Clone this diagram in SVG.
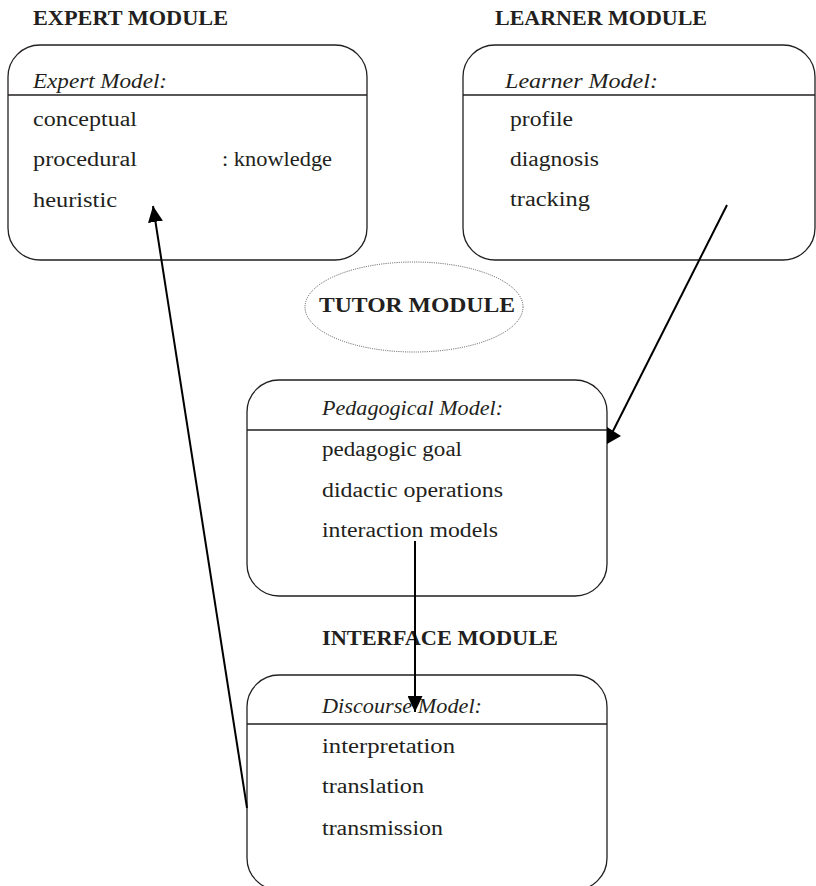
<svg xmlns="http://www.w3.org/2000/svg" width="816" height="886" viewBox="0 0 816 886">
  <style>
    text { font-family: "Liberation Serif", "Times New Roman", serif; font-size: 20px; fill: #231f20; }
    .head { font-weight: bold; }
    .it { font-style: italic; }
    .box { fill: #ffffff; stroke: #231f20; stroke-width: 1.3; }
    .rule { stroke: #231f20; stroke-width: 1.3; }
    .arrow { stroke: #000000; stroke-width: 2; fill: none; }
    .tip { fill: #000000; }
  </style>
  <defs>
    <marker id="arrowhead" markerUnits="userSpaceOnUse" markerWidth="16" markerHeight="15" refX="16" refY="7.5" orient="auto">
      <path d="M0,0 L16,7.5 L0,15 z" class="tip"/>
    </marker>
  </defs>

  <rect width="816" height="886" fill="#ffffff"/>

  <!-- Expert module -->
  <g id="expert">
    <text class="head" x="33" y="25" textLength="195" lengthAdjust="spacingAndGlyphs">EXPERT MODULE</text>
    <rect class="box" x="8" y="45" width="359" height="215" rx="32" ry="32"/>
    <line class="rule" x1="8" y1="95" x2="367" y2="95"/>
    <text class="it" x="33" y="88" textLength="134" lengthAdjust="spacingAndGlyphs">Expert Model:</text>
    <text x="33" y="126" textLength="104" lengthAdjust="spacingAndGlyphs">conceptual</text>
    <text x="33" y="166" textLength="104" lengthAdjust="spacingAndGlyphs">procedural</text>
    <text x="222" y="166" textLength="110" lengthAdjust="spacingAndGlyphs">: knowledge</text>
    <text x="33" y="207" textLength="84" lengthAdjust="spacingAndGlyphs">heuristic</text>
  </g>

  <!-- Learner module -->
  <g id="learner">
    <text class="head" x="495" y="25" textLength="212" lengthAdjust="spacingAndGlyphs">LEARNER MODULE</text>
    <rect class="box" x="463" y="45" width="352" height="215" rx="32" ry="32"/>
    <line class="rule" x1="463" y1="95" x2="815" y2="95"/>
    <text class="it" x="505" y="88" textLength="153" lengthAdjust="spacingAndGlyphs">Learner Model:</text>
    <text x="510" y="126" textLength="63" lengthAdjust="spacingAndGlyphs">profile</text>
    <text x="510" y="166" textLength="89" lengthAdjust="spacingAndGlyphs">diagnosis</text>
    <text x="510" y="206" textLength="80" lengthAdjust="spacingAndGlyphs">tracking</text>
  </g>

  <!-- Tutor module -->
  <g id="tutor">
    <ellipse cx="414" cy="307" rx="109" ry="45" fill="none" stroke="#555555" stroke-width="1" stroke-dasharray="1 1.2"/>
    <text class="head" x="319" y="312" textLength="196" lengthAdjust="spacingAndGlyphs">TUTOR MODULE</text>
  </g>

  <!-- Pedagogical model -->
  <g id="pedagogical">
    <rect class="box" x="247" y="380" width="360" height="216" rx="32" ry="32"/>
    <line class="rule" x1="247" y1="430" x2="607" y2="430"/>
    <text class="it" x="322" y="415" textLength="181" lengthAdjust="spacingAndGlyphs">Pedagogical Model:</text>
    <text x="322" y="456" textLength="140" lengthAdjust="spacingAndGlyphs">pedagogic goal</text>
    <text x="322" y="497" textLength="181" lengthAdjust="spacingAndGlyphs">didactic operations</text>
    <text x="322" y="537" textLength="176" lengthAdjust="spacingAndGlyphs">interaction models</text>
  </g>

  <!-- Interface module -->
  <g id="interface">
    <text class="head" x="322" y="645" textLength="236" lengthAdjust="spacingAndGlyphs">INTERFACE MODULE</text>
    <rect class="box" x="247" y="675" width="360" height="215" rx="32" ry="32"/>
    <line class="rule" x1="247" y1="724" x2="607" y2="724"/>
    <text class="it" x="322" y="713" textLength="160" lengthAdjust="spacingAndGlyphs">Discourse Model:</text>
    <text x="322" y="753" textLength="133" lengthAdjust="spacingAndGlyphs">interpretation</text>
    <text x="322" y="793" textLength="102" lengthAdjust="spacingAndGlyphs">translation</text>
    <text x="322" y="835" textLength="121" lengthAdjust="spacingAndGlyphs">transmission</text>
  </g>

  <!-- Connectors -->
  <g id="connectors">
    <!-- learner -> pedagogical (head partly hidden behind the box edge) -->
    <line class="arrow" x1="727" y1="205" x2="612" y2="433"/>
    <polygon class="tip" points="607,427 621,436 607,444"/>
    <!-- pedagogical -> discourse -->
    <line class="arrow" x1="415" y1="541" x2="415" y2="712" marker-end="url(#arrowhead)"/>
    <!-- discourse -> expert -->
    <line class="arrow" x1="247" y1="808" x2="153" y2="206" marker-end="url(#arrowhead)"/>
  </g>
</svg>
